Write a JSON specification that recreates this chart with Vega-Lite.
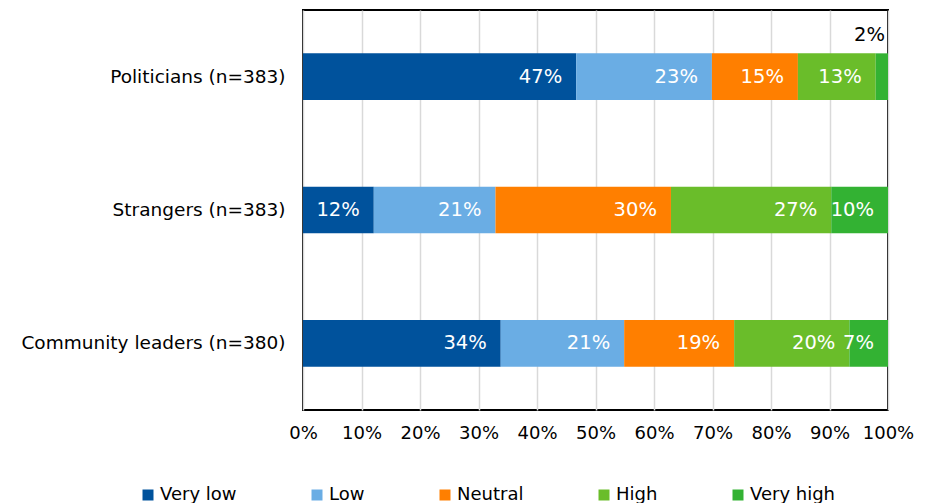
{
  "$schema": "https://vega.github.io/schema/vega-lite/v6.json",
  "autosize": {"type": "none"},
  "padding": {"left": 303, "top": 10, "right": 42, "bottom": 93},
  "width": 585,
  "height": 400,
  "background": "white",
  "config": {"view": {"stroke": "#000000", "strokeWidth": 2}, "font": "DejaVu Sans"},
  "data": {"values": [
    {"group": "Politicians (n=383)", "level": "Very low", "k": 1, "value": 0.467},
    {"group": "Politicians (n=383)", "level": "Low", "k": 2, "value": 0.232},
    {"group": "Politicians (n=383)", "level": "Neutral", "k": 3, "value": 0.147},
    {"group": "Politicians (n=383)", "level": "High", "k": 4, "value": 0.133},
    {"group": "Politicians (n=383)", "level": "Very high", "k": 5, "value": 0.021},
    {"group": "Strangers (n=383)", "level": "Very low", "k": 1, "value": 0.121},
    {"group": "Strangers (n=383)", "level": "Low", "k": 2, "value": 0.208},
    {"group": "Strangers (n=383)", "level": "Neutral", "k": 3, "value": 0.300},
    {"group": "Strangers (n=383)", "level": "High", "k": 4, "value": 0.274},
    {"group": "Strangers (n=383)", "level": "Very high", "k": 5, "value": 0.097},
    {"group": "Community leaders (n=380)", "level": "Very low", "k": 1, "value": 0.338},
    {"group": "Community leaders (n=380)", "level": "Low", "k": 2, "value": 0.211},
    {"group": "Community leaders (n=380)", "level": "Neutral", "k": 3, "value": 0.188},
    {"group": "Community leaders (n=380)", "level": "High", "k": 4, "value": 0.197},
    {"group": "Community leaders (n=380)", "level": "Very high", "k": 5, "value": 0.066}
  ]},
  "transform": [
    {"stack": "value", "groupby": ["group"], "sort": [{"field": "k", "order": "ascending"}], "as": ["x0", "x1"]}
  ],
  "encoding": {
    "y": {
      "field": "group", "type": "nominal",
      "sort": ["Politicians (n=383)", "Strangers (n=383)", "Community leaders (n=380)"],
      "scale": {"paddingInner": 0.65, "paddingOuter": 0.325},
      "axis": {"title": null, "ticks": false, "tickSize": 0, "domain": false, "labelFontSize": 18.5, "labelColor": "#000000", "labelPadding": 18, "labelFont": "DejaVu Sans", "labelLimit": 400}
    }
  },
  "layer": [
    {
      "mark": {"type": "bar"},
      "encoding": {
        "x": {
          "field": "x0", "type": "quantitative",
          "scale": {"domain": [0, 1], "nice": false},
          "axis": {"title": null, "format": ".0%", "values": [0, 0.1, 0.2, 0.3, 0.4, 0.5, 0.6, 0.7, 0.8, 0.9, 1], "grid": true, "gridColor": "#d9d9d9", "gridWidth": 1.5, "ticks": false, "tickSize": 0, "domain": false, "labelFontSize": 18, "labelColor": "#000000", "labelPadding": 14, "labelFlush": false, "labelFont": "DejaVu Sans"}
        },
        "x2": {"field": "x1"},
        "color": {
          "field": "level", "type": "nominal",
          "scale": {"domain": ["Very low", "Low", "Neutral", "High", "Very high"], "range": ["#00529c", "#6aade4", "#ff7f00", "#6abd2a", "#33b233"]},
          "legend": {"title": null, "orient": "none", "legendX": -164, "legendY": 476, "direction": "horizontal", "columns": 5, "symbolType": "square", "symbolSize": 121, "symbolStrokeWidth": 0, "labelFontSize": 18, "labelFont": "DejaVu Sans", "labelColor": "#000000", "labelOffset": 3, "columnPadding": 71, "padding": 0, "labelLimit": 300}
        }
      }
    },
    {
      "transform": [{"filter": "datum.value >= 0.03"}],
      "mark": {"type": "text", "align": "right", "baseline": "middle", "dx": -14, "color": "#ffffff", "fontSize": 19.5, "font": "DejaVu Sans"},
      "encoding": {
        "x": {"field": "x1", "type": "quantitative"},
        "text": {"field": "value", "type": "quantitative", "format": ".0%"}
      }
    },
    {
      "transform": [{"filter": "datum.value < 0.03"}],
      "mark": {"type": "text", "align": "right", "baseline": "middle", "dx": -3, "dy": -42, "color": "#000000", "fontSize": 19.5, "font": "DejaVu Sans"},
      "encoding": {
        "x": {"field": "x1", "type": "quantitative"},
        "text": {"field": "value", "type": "quantitative", "format": ".0%"}
      }
    }
  ]
}
